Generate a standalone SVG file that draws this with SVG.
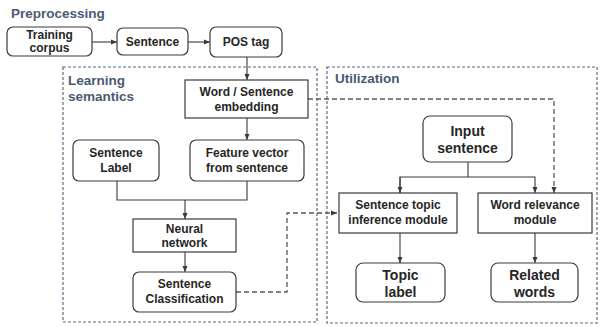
<svg xmlns="http://www.w3.org/2000/svg" width="601" height="327" viewBox="0 0 601 327">
<style>
.box{fill:#fff;stroke:#3a3a3a;stroke-width:1.2}
.t{font-family:"Liberation Sans",Arial,sans-serif;font-weight:bold;font-size:12px;fill:#262626;text-anchor:middle}
.tl{font-size:14px}
.title{font-family:"Liberation Sans",Arial,sans-serif;font-weight:bold;font-size:13.5px;fill:#4a5a72}
.cont{fill:none;stroke:#5a6a80;stroke-width:1.2;stroke-dasharray:3,2}
.c{fill:none;stroke:#3a3a3a;stroke-width:1.1}
.d{fill:none;stroke:#5a5a5a;stroke-width:1.3;stroke-dasharray:5,3}
</style>
<defs>
<marker id="a" viewBox="0 0 6 6" refX="6" refY="3" markerWidth="6" markerHeight="6" orient="auto" markerUnits="userSpaceOnUse">
<path d="M0,0.5 L6,3 L0,5.5 z" fill="#3a3a3a"/>
</marker>
</defs>
<text class="title" x="11" y="18">Preprocessing</text>
<g id="learning-semantics">
<rect class="cont" x="63" y="67" width="254" height="255"/>
<text class="title" x="68" y="85">Learning</text>
<text class="title" x="68" y="101">semantics</text>
</g>
<g id="utilization">
<rect class="cont" x="327" y="67" width="270" height="256"/>
<text class="title" x="335" y="83">Utilization</text>
</g>
<g id="connectors">
<path class="c" d="M92,42 H117" marker-end="url(#a)"/>
<path class="c" d="M188,42 H210" marker-end="url(#a)"/>
<path class="c" d="M247,57 V80" marker-end="url(#a)"/>
<path class="c" d="M247,118 V140" marker-end="url(#a)"/>
<path class="c" d="M117,181 V200 H247 V181"/>
<path class="c" d="M185,200 V219" marker-end="url(#a)"/>
<path class="c" d="M185,252 V272" marker-end="url(#a)"/>
<path class="d" d="M236,292 H287 V213 H337" marker-end="url(#a)"/>
<path class="d" d="M308,99 H554 V193" marker-end="url(#a)"/>
<path class="c" d="M468,162 V177"/>
<path class="c" d="M400,193 V177 H535 V193" marker-end="url(#a)"/>
<path class="c" d="M400,177 V193" marker-end="url(#a)"/>
<path class="c" d="M400,233 V263" marker-end="url(#a)"/>
<path class="c" d="M535,233 V263" marker-end="url(#a)"/>
</g>
<g id="training-corpus"><rect class="box" x="7" y="27" width="85" height="29" rx="6"/><text class="t" x="49.5" y="38.5">Training</text><text class="t" x="49.5" y="52">corpus</text></g>
<g id="sentence"><rect class="box" x="117" y="28" width="71" height="27" rx="6"/><text class="t" x="152.5" y="46">Sentence</text></g>
<g id="pos-tag"><rect class="box" x="210" y="27" width="72" height="30" rx="6"/><text class="t" x="246" y="46">POS tag</text></g>
<g id="embedding"><rect class="box" x="185" y="80" width="123" height="38"/><text class="t" x="246.5" y="96">Word / Sentence</text><text class="t" x="246.5" y="111">embedding</text></g>
<g id="sentence-label"><rect class="box" x="73" y="140" width="86" height="41" rx="6"/><text class="t" x="116" y="157">Sentence</text><text class="t" x="116" y="172">Label</text></g>
<g id="feature-vector"><rect class="box" x="190" y="140" width="114" height="41" rx="6"/><text class="t" x="247" y="157">Feature vector</text><text class="t" x="247" y="172">from sentence</text></g>
<g id="neural-network"><rect class="box" x="133" y="219" width="103" height="33"/><text class="t" x="184.5" y="232.5">Neural</text><text class="t" x="184.5" y="247">network</text></g>
<g id="sentence-classification"><rect class="box" x="133" y="272" width="103" height="40" rx="6"/><text class="t" x="184.5" y="288">Sentence</text><text class="t" x="184.5" y="303">Classification</text></g>
<g id="input-sentence"><rect class="box" x="423" y="116" width="89" height="46" rx="7"/><text class="t tl" x="467.5" y="136">Input</text><text class="t tl" x="467.5" y="153">sentence</text></g>
<g id="topic-inference"><rect class="box" x="339" y="193" width="118" height="40"/><text class="t" x="398" y="209">Sentence topic</text><text class="t" x="398" y="224">inference module</text></g>
<g id="word-relevance"><rect class="box" x="478" y="193" width="114" height="40"/><text class="t" x="535" y="209">Word relevance</text><text class="t" x="535" y="224">module</text></g>
<g id="topic-label"><rect class="box" x="356" y="263" width="89" height="39" rx="7"/><text class="t tl" x="400.5" y="280">Topic</text><text class="t tl" x="400.5" y="297">label</text></g>
<g id="related-words"><rect class="box" x="491" y="263" width="87" height="39" rx="7"/><text class="t tl" x="534.5" y="280">Related</text><text class="t tl" x="534.5" y="297">words</text></g>
</svg>
